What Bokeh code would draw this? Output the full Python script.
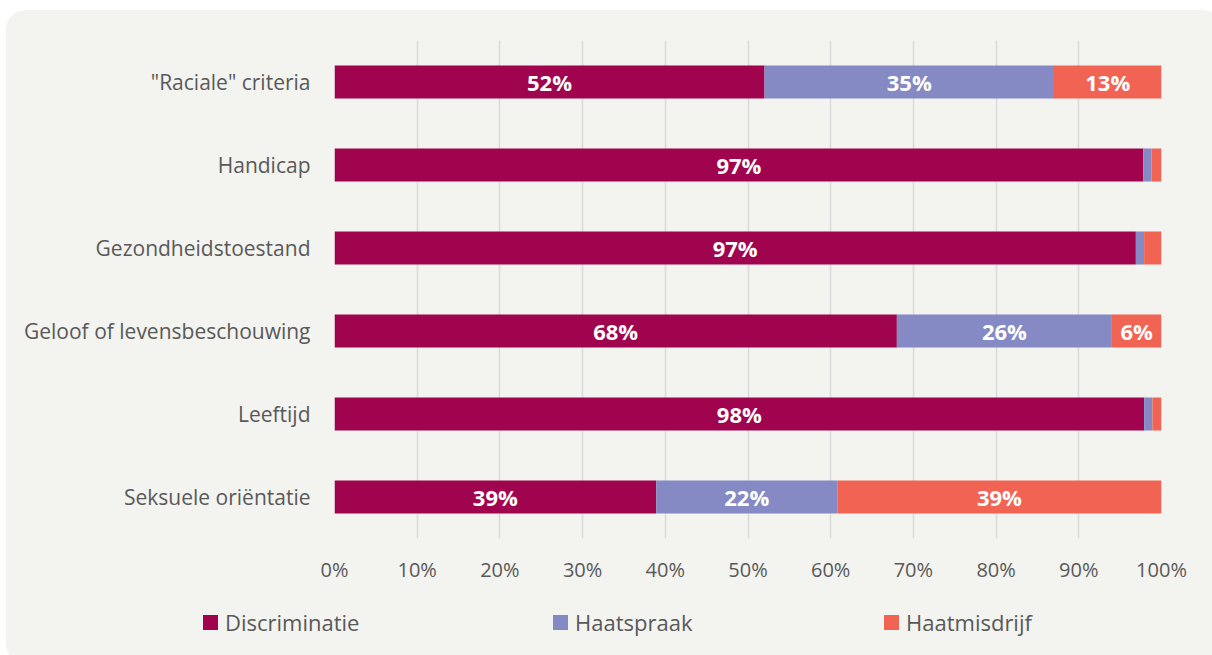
import numpy as np
from bokeh.plotting import figure
from bokeh.layouts import column
from bokeh.models import ColumnDataSource, FactorRange, Range1d, Div, FixedTicker, CustomJSTickFormatter
from bokeh.core.properties import value
from bokeh.embed import file_html
from bokeh.resources import INLINE

categories = ['"Raciale" criteria', 'Handicap', 'Gezondheidstoestand',
              'Geloof of levensbeschouwing', 'Leeftijd', 'Seksuele oriëntatie']
discriminatie = [52.0, 97.8, 96.9, 68.0, 97.9, 38.9]
haatspraak = [35.0, 1.0, 1.0, 26.0, 1.0, 21.9]
haatmisdrijf = [13.0, 1.2, 2.1, 6.0, 1.1, 39.2]
disc_labels = ["52%", "97%", "97%", "68%", "98%", "39%"]
haats_labels = ["35%", "", "", "26%", "", "22%"]
haatm_labels = ["13%", "", "", "6%", "", "39%"]
series_names = ["Discriminatie", "Haatspraak", "Haatmisdrijf"]
x_ticks = [0, 10, 20, 30, 40, 50, 60, 70, 80, 90, 100]

colors = ["#a0044f", "#858ac4", "#f16454"]
bg = "#f3f3ef"
txt = "#595959"
font = "Open Sans"

W = 1206
p = figure(width=W, height=590, y_range=FactorRange(*categories[::-1]),
           x_range=Range1d(0, 100), output_backend="svg", toolbar_location=None,
           min_border_left=328, min_border_right=51, min_border_top=30, min_border_bottom=62)
p.background_fill_color = bg
p.border_fill_color = bg
p.outline_line_color = None

d = np.array(discriminatie)
s = np.array(haatspraak)
m = np.array(haatmisdrijf)
lefts = [np.zeros_like(d), d, d + s]
rights = [d, d + s, d + s + m]
labels = [disc_labels, haats_labels, haatm_labels]

for i in range(3):
    src = ColumnDataSource(dict(y=categories, left=lefts[i], right=rights[i],
                                mid=(lefts[i] + rights[i]) / 2, lab=labels[i]))
    p.hbar(y="y", left="left", right="right", height=0.4, source=src,
           fill_color=colors[i], line_color=None)
    p.text(x="mid", y="y", text="lab", source=src, text_align="center",
           text_baseline="middle", text_color="white", text_font=value(font),
           text_font_style="bold", text_font_size="22px")

p.xaxis.ticker = FixedTicker(ticks=x_ticks)
p.xaxis.formatter = CustomJSTickFormatter(code="return tick + '%';")
for ax in [p.xaxis[0], p.yaxis[0]]:
    ax.axis_line_color = None
    ax.major_tick_line_color = None
    ax.minor_tick_line_color = None
    ax.major_label_text_color = txt
    ax.major_label_text_font = font
p.xaxis.major_label_text_font_size = "20px"
p.yaxis.major_label_text_font_size = "21px"
p.xaxis.major_label_standoff = 11
p.yaxis.major_label_standoff = 18
p.ygrid.grid_line_color = None
p.xgrid.grid_line_color = "#d9d9d9"
p.xgrid.grid_line_width = 1.5

# legend strip (HTML)
legend_x = [192, 542, 873]
parts = []
for name, col, lx in zip(series_names, colors, legend_x):
    parts.append(
        f'<div style="position:absolute;left:{lx}px;top:2px;display:flex;align-items:center;'
        f'font-family:\'{font}\';font-size:22px;color:{txt};white-space:nowrap;">'
        f'<span style="display:inline-block;width:15px;height:15px;background:{col};margin-right:7px;"></span>'
        f'<span>{name}</span></div>')
html = (f'<div style="position:relative;width:{W}px;height:54px;background:{bg};">'
        + "".join(parts) + '</div>')
leg = Div(text=html, width=W, height=54, styles={"background-color": bg})

layout = column(p, leg, spacing=0,
                styles={"border-radius": "20px", "overflow": "hidden",
                        "margin-left": "6px", "margin-top": "10px", "background-color": bg})
open("out.html", "w").write(file_html(layout, INLINE))
